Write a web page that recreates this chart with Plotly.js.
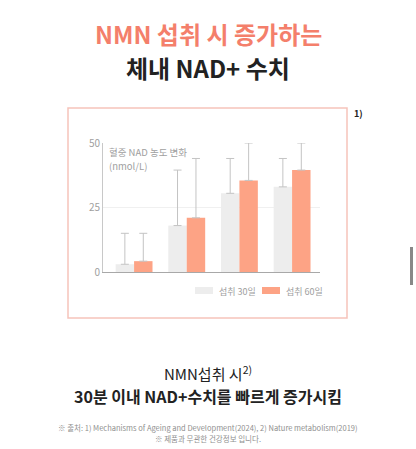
<!DOCTYPE html>
<html>
<head>
<meta charset="utf-8">
<script src="https://cdn.plot.ly/plotly-3.0.1.min.js"></script>
<style>
  html, body { margin: 0; padding: 0; background: #fff; }
  #chart { width: 416px; height: 449px; }
</style>
</head>
<body>
<div id="chart"></div>
<script>
// data
var groups = ["1", "2", "3", "4"];
var days30 = [3, 18, 30.5, 33];
var days60 = [4.2, 21, 35.5, 39.5];
var err30 = [12, 21.5, 13.5, 11];
var err60 = [10.8, 23, 14.5, 10.5];
var zeros = [0, 0, 0, 0];
var yTicks = [0, 25, 50];
var seriesNames = ["섭취 30일", "섭취 60일"];

var FONT = "Noto Sans CJK KR, Noto Sans, sans-serif";
var GRAY = "#ededed";
var ORANGE = "#fda385";

// plot area in pixels: x 103..320, y 143..272
var L = 103, R = 96, T = 143, B = 177;
var W = 416 - L - R, H = 449 - T - B;
function px(x) { return (x - L) / W; }
function py(y) { return (449 - B - y) / H; }

var data = [
  {
    type: "bar", name: seriesNames[0], x: groups, y: days30,
    marker: { color: GRAY },
    error_y: { type: "data", symmetric: false, array: err30, arrayminus: zeros,
               color: "#c4c4c4", thickness: 1, width: 4 }
  },
  {
    type: "bar", name: seriesNames[1], x: groups, y: days60,
    marker: { color: ORANGE },
    error_y: { type: "data", symmetric: false, array: err60, arrayminus: zeros,
               color: "#c4c4c4", thickness: 1, width: 4 }
  }
];

function note(text, x, y, size, color, opts) {
  var a = {
    text: text, xref: "paper", yref: "paper", x: px(x), y: py(y),
    showarrow: false, font: { family: FONT, size: size, color: color },
    xanchor: "center", yanchor: "middle"
  };
  for (var k in opts) a[k] = opts[k];
  return a;
}

var annotations = [
  note("<b>NMN 섭취 시 증가하는</b>", 208, 33, 24, "#f47f6b"),
  note("<b>체내 NAD+ 수치</b>", 208, 67, 24, "#222"),
  note("<b>1)</b>", 352, 113, 9, "#222", { xanchor: "left" }),
  note("혈중 NAD 농도 변화", 108, 152, 9.5, "#a0a0a0", { xanchor: "left", borderpad: 0 }),
  note("(nmol/L)", 108, 166, 9.5, "#a0a0a0", { xanchor: "left", borderpad: 0 }),
  note(seriesNames[0], 217, 291, 9, "#a0a0a0", { xanchor: "left" }),
  note(seriesNames[1], 284, 291, 9, "#a0a0a0", { xanchor: "left" }),
  note("NMN섭취 시<sup>2)</sup>", 208, 373, 15, "#222"),
  note("<b>30분 이내 NAD+수치를 빠르게 증가시킴</b>", 208, 396, 16, "#222"),
  note("※ 출처: 1) Mechanisms of Ageing and Development(2024), 2) Nature metabolism(2019)",
       208, 427, 7.5, "#8f8f8f"),
  note("※ 제품과 무관한 건강정보 입니다.", 208, 438, 7.5, "#8f8f8f")
];

function rect(x0, y0, x1, y1, style) {
  var s = { type: "rect", xref: "paper", yref: "paper",
            x0: px(x0), x1: px(x1), y0: py(y0), y1: py(y1) };
  for (var k in style) s[k] = style[k];
  return s;
}

var shapes = [
  rect(68, 108, 347, 318, { line: { color: "#f6c3ba", width: 1.5 }, layer: "below" }),
  rect(195, 287, 213, 294, { fillcolor: GRAY, line: { width: 0 } }),
  rect(262, 287, 280, 294, { fillcolor: ORANGE, line: { width: 0 } }),
  rect(410, 247, 413, 285, { fillcolor: "#888", line: { width: 0 } })
];

var layout = {
  width: 416, height: 449,
  margin: { l: L, r: R, t: T, b: B, pad: 0 },
  paper_bgcolor: "#fff", plot_bgcolor: "#fff",
  font: { family: FONT, color: "#999" },
  showlegend: false,
  barmode: "group", bargap: 0.3, bargroupgap: 0,
  xaxis: {
    type: "category", range: [-0.59, 3.53],
    showticklabels: false, showgrid: false, zeroline: false,
    showline: true, linecolor: "#a8a8a8", linewidth: 1, ticks: ""
  },
  yaxis: {
    range: [0, 50], tickvals: yTicks, showgrid: true, gridcolor: "#f0f0f0",
    zeroline: false, showline: true, linecolor: "#c8c8c8", linewidth: 1,
    ticks: "", tickfont: { size: 10, color: "#a0a0a0" }
  },
  annotations: annotations,
  shapes: shapes
};

Plotly.newPlot("chart", data, layout, { staticPlot: true, displayModeBar: false });
</script>
</body>
</html>
